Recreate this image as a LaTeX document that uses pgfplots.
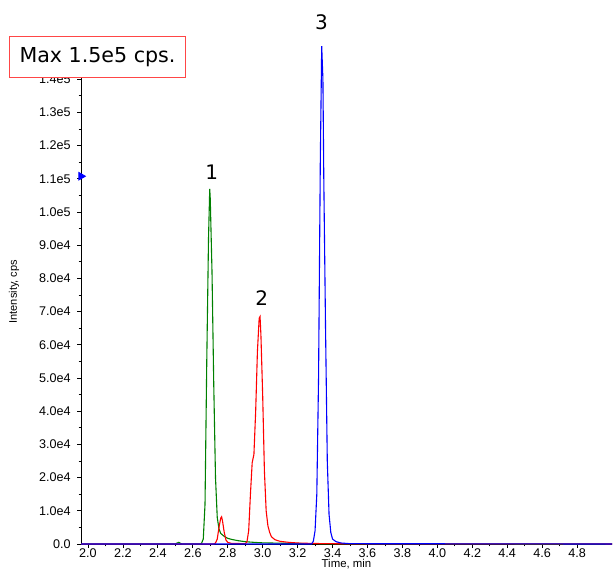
\documentclass[border=0pt]{standalone}
\usepackage{pgfplots}
\pgfplotsset{compat=1.18}
\usepackage{fontspec}
\setmainfont{Liberation Sans}
\newfontfamily\boxfont{DejaVu Sans}
\definecolor{pkgreen}{RGB}{0,128,0}
\definecolor{pkred}{RGB}{255,0,0}
\definecolor{pkblue}{RGB}{0,0,255}
\definecolor{boxred}{RGB}{255,70,70}

% compound 1 (green)
\pgfplotstableread{
t I
1.96 0
2.50 0
2.51 300
2.52 500
2.53 200
2.54 0
2.64 0
2.65 200
2.66 1500
2.67 12000
2.68 55000
2.69 92000
2.697 107000
2.70 104000
2.71 82000
2.72 48000
2.73 20000
2.74 8000
2.75 4500
2.76 3200
2.78 2300
2.80 1700
2.83 1300
2.86 1000
2.90 700
2.95 500
3.00 350
3.10 250
3.20 150
3.30 100
3.50 50
5.00 0
}\cmpa
% compound 2 (red)
\pgfplotstableread{
t I
1.96 0
2.72 0
2.73 300
2.74 1500
2.75 5000
2.76 7800
2.765 8200
2.77 7000
2.78 3500
2.79 1200
2.80 500
2.82 200
2.90 100
2.91 600
2.92 4000
2.93 15000
2.94 24500
2.95 27000
2.96 40000
2.97 58000
2.98 68000
2.985 68500
2.99 63000
3.00 45000
3.01 22000
3.02 10000
3.03 5500
3.04 3500
3.05 2200
3.07 1300
3.10 800
3.15 500
3.20 300
3.30 150
3.50 50
4.90 50
5.00 0
}\cmpb
% compound 3 (blue)
\pgfplotstableread{
t I
1.96 0
3.28 0
3.29 800
3.30 4000
3.31 15000
3.32 50000
3.33 115000
3.338 150000
3.345 140000
3.35 110000
3.36 65000
3.37 25000
3.38 9000
3.39 3500
3.40 1500
3.42 700
3.45 300
3.50 100
5.00 0
}\cmpc

\begin{document}
\begin{tikzpicture}
\useasboundingbox (0,0) rectangle (307pt,284.5pt);
\begin{axis}[
  at={(40.5pt,12.5pt)}, anchor=south west,
  scale only axis, width=265.5pt, height=252.3pt,
  xmin=1.96, xmax=5.0, ymin=0, ymax=152000,
  axis x line=bottom, axis y line=left,
  axis line style={-, line width=0.5pt},
  clip=false,
  tick align=outside,
  major tick length=2pt, minor tick length=1.2pt,
  every tick/.style={black, line width=0.4pt},
  xtick={2.0,2.2,2.4,2.6,2.8,3.0,3.2,3.4,3.6,3.8,4.0,4.2,4.4,4.6,4.8},
  xticklabels={2.0,2.2,2.4,2.6,2.8,3.0,3.2,3.4,3.6,3.8,4.0,4.2,4.4,4.6,4.8},
  minor x tick num=1,
  ytick={0,10000,20000,30000,40000,50000,60000,70000,80000,90000,100000,110000,120000,130000,140000},
  yticklabels={0.0,1.0e4,2.0e4,3.0e4,4.0e4,5.0e4,6.0e4,7.0e4,8.0e4,9.0e4,1.0e5,1.1e5,1.2e5,1.3e5,1.4e5},
  minor y tick num=1,
  scaled y ticks=false,
  tick label style={font=\fontsize{6.3}{7}\selectfont},
  yticklabel style={xshift=0.3pt},
  xticklabel style={inner sep=0.3pt},
  xlabel={Time, min},
  xlabel style={font=\fontsize{5.7}{6.5}\selectfont, at={(axis description cs:0.5,0)}, anchor=north, inner sep=0pt, yshift=-7.3pt},
  ylabel={Intensity, cps},
  ylabel style={font=\fontsize{5.5}{6.5}\selectfont, at={(axis description cs:-0.126,0.5)}, anchor=center},
]
\addplot[pkgreen, line width=0.55pt] table[x=t, y=I] {\cmpa};
\addplot[pkred, line width=0.55pt] table[x=t, y=I] {\cmpb};
\addplot[pkblue, line width=0.55pt] table[x=t, y=I] {\cmpc};
\addplot[only marks, mark=triangle*, mark size=2.2pt,
  mark options={pkblue, rotate=-90, xshift=-1.3pt}] coordinates {(1.96,110000)};
\node[font=\boxfont\fontsize{10}{12}\selectfont] at (axis cs:2.709,112000) {1};
\node[font=\boxfont\fontsize{10}{12}\selectfont] at (axis cs:2.994,74100) {2};
\node[font=\boxfont\fontsize{10}{12}\selectfont] at (axis cs:3.337,157200) {3};
\end{axis}
\node[draw=boxred, line width=0.5pt, fill=white, anchor=north west,
  minimum width=88pt, minimum height=20.5pt, inner sep=0pt,
  font=\boxfont\fontsize{10.3}{12}\selectfont] at (4.5pt,266.5pt) {Max 1.5e5 cps.};
\end{tikzpicture}
\end{document}
